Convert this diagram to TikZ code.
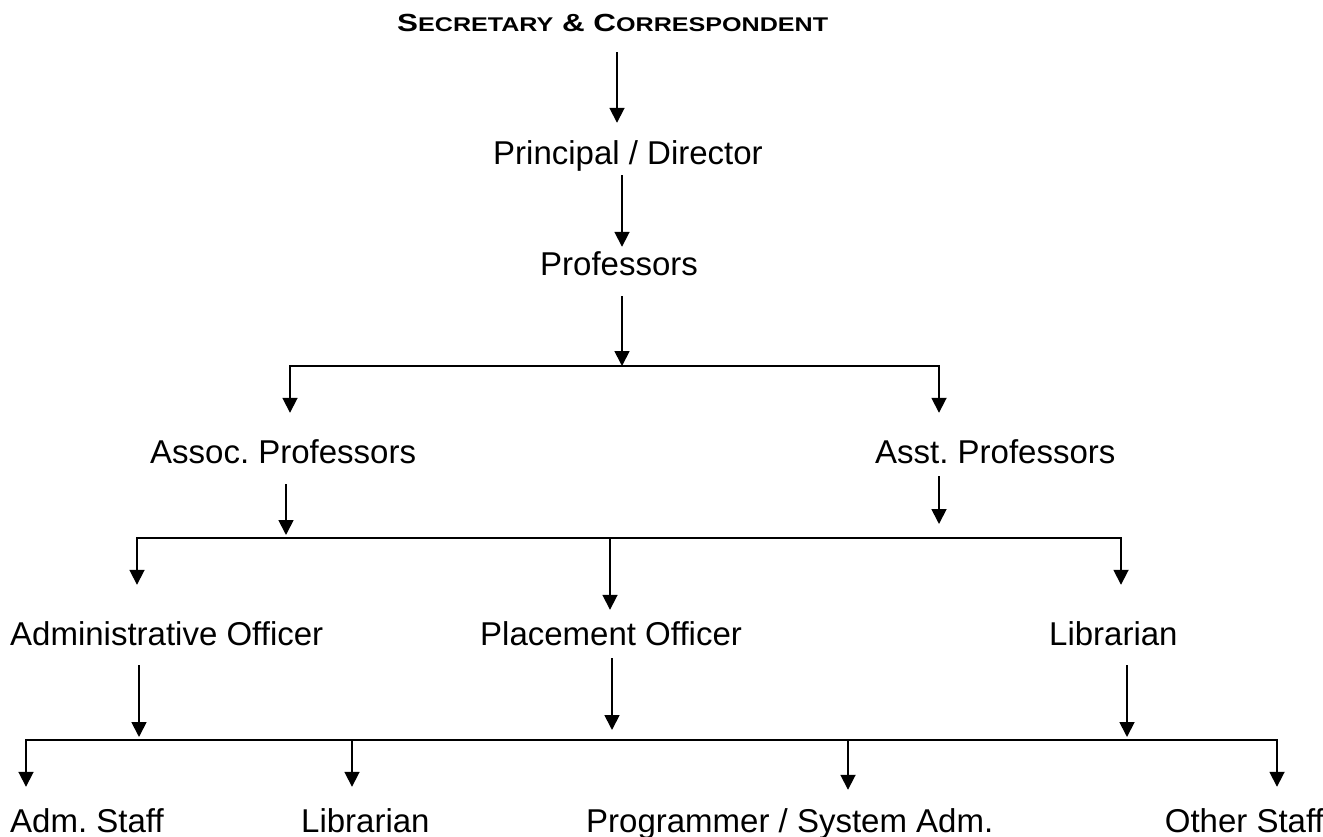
\documentclass[tikz,border=0pt]{standalone}
\usepackage{graphicx}
\usepackage{fontspec}
\setmainfont{Liberation Sans}
\usetikzlibrary{arrows.meta}
\frenchspacing
\newcommand\ttlbig{\fontsize{24}{28}\selectfont}
\newcommand\ttlsmall{\fontsize{19.2}{28}\selectfont}
\begin{document}
\begin{tikzpicture}[x=1pt,y=-1pt,
  lbl/.style={font=\fontsize{33}{40}\selectfont, inner sep=0pt, text height=24pt, text depth=7pt, anchor=base west},
  arr/.style={line width=1.8pt, -{Triangle[length=15pt,width=15pt]}},
  bus/.style={line width=1.8pt, line cap=rect}]
\useasboundingbox[fill=white] (0,0) rectangle (1323,837);

% nodes
\node[inner sep=0pt, anchor=base west, text depth=0pt] (title) at (397,32)
  {\resizebox{431pt}{17.3pt}{\bfseries\ttlbig S{\ttlsmall ECRETARY} \& C{\ttlsmall ORRESPONDENT}}};
\node[lbl] (prin)  at (493,165) {Principal / Director};
\node[lbl] (prof)  at (540,276) {Professors};
\node[lbl] (assoc) at (150,463) {Assoc. Professors};
\node[lbl] (asst)  at (875,463) {Asst. Professors};
\node[lbl] (admin) at (10,645)  {Administrative Officer};
\node[lbl] (place) at (480,645) {Placement Officer};
\node[lbl] (lib1)  at (1049,645) {Librarian};
\node[lbl] (staff) at (10,832)  {Adm. Staff};
\node[lbl] (lib2)  at (301,832) {Librarian};
\node[lbl] (prog)  at (586,832) {Programmer / System Adm.};
\node[lbl, anchor=base east] (other) at (1324,832) {Other Staff};

% junction coordinates
\coordinate (x1)  at (617,0);
\coordinate (j1)  at (622,366);
\coordinate (b1l) at (290,366);
\coordinate (b1r) at (939,366);
\coordinate (j2a) at (286,538);
\coordinate (j2b) at (939,538);
\coordinate (b2l) at (137,538);
\coordinate (b2m) at (610,538);
\coordinate (b2r) at (1121,538);
\coordinate (j3a) at (139,740);
\coordinate (j3b) at (612,740);
\coordinate (j3c) at (1127,740);
\coordinate (b3l) at (26,740);
\coordinate (b3a) at (352,740);
\coordinate (b3b) at (848,740);
\coordinate (b3r) at (1277,740);

% level 1-2
\draw[arr, shorten <=20pt, shorten >=18pt] (x1 |- title.south) -- (x1 |- prin.north);
\draw[arr, shorten <=3pt, shorten >=5pt] (j1 |- prin.south) -- (j1 |- prof.north);
\draw[arr, shorten <=13pt] (j1 |- prof.south) -- (j1);

% bus 1
\draw[bus] (b1l) -- (b1r);
\draw[arr, shorten >=26pt] (b1l) -- (b1l |- assoc.north);
\draw[arr, shorten >=26pt] (b1r) -- (b1r |- asst.north);

% to bus 2
\draw[arr, shorten <=14pt, shorten >=3pt] (j2a |- assoc.south) -- (j2a);
\draw[arr, shorten <=6pt, shorten >=14pt] (j2b |- asst.south) -- (j2b);
\draw[bus] (b2l) -- (b2r);
\draw[arr, shorten >=36pt] (b2l) -- (b2l |- admin.north);
\draw[arr, shorten >=11pt] (b2m) -- (b2m |- place.north);
\draw[arr, shorten >=36pt] (b2r) -- (b2r |- lib1.north);

% to bus 3
\draw[arr, shorten <=13pt, shorten >=3pt] (j3a |- admin.south) -- (j3a);
\draw[arr, shorten <=6pt, shorten >=10pt] (j3b |- place.south) -- (j3b);
\draw[arr, shorten <=13pt, shorten >=3pt] (j3c |- lib1.south) -- (j3c);
\draw[bus] (b3l) -- (b3r);
\draw[arr, shorten >=21pt] (b3l) -- (b3l |- staff.north);
\draw[arr, shorten >=21pt] (b3a) -- (b3a |- lib2.north);
\draw[arr, shorten >=18pt] (b3b) -- (b3b |- prog.north);
\draw[arr, shorten >=21pt] (b3r) -- (b3r |- other.north);
\end{tikzpicture}
\end{document}
